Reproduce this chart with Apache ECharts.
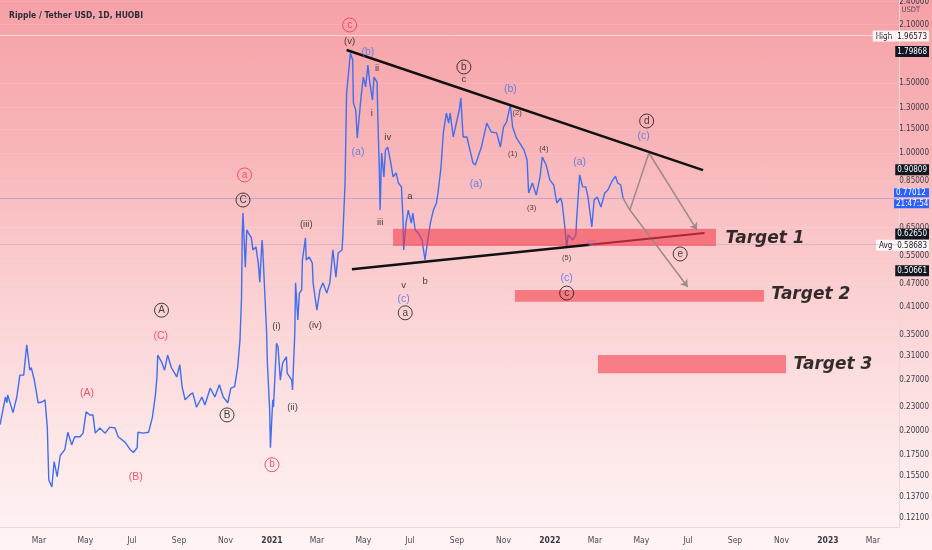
<!DOCTYPE html>
<html>
<head>
<meta charset="utf-8">
<title>Ripple / Tether USD, 1D, HUOBI</title>
<script src="https://cdn.jsdelivr.net/npm/echarts@6/dist/echarts.min.js"></script>
<style>
  html, body { margin: 0; padding: 0; }
  #main {
    width: 932px; height: 550px;
    background: linear-gradient(to bottom, #f6a1a7 0%, #f8b6ba 28%, #fbcfd1 52%, #fde5e6 78%, #fff4f4 100%);
  }
</style>
</head>
<body>
<div id="main"></div>
<script>
"use strict";

// closing prices
var priceDates = [
  '2020-01-10','2020-01-17','2020-01-19','2020-01-20','2020-01-27','2020-02-01','2020-02-05','2020-02-10',
  '2020-02-14','2020-02-18','2020-02-20','2020-02-24','2020-02-29','2020-03-05','2020-03-09','2020-03-12',
  '2020-03-14','2020-03-18','2020-03-21','2020-03-25','2020-03-29','2020-04-04','2020-04-08','2020-04-13',
  '2020-04-17','2020-04-24','2020-04-28','2020-05-02','2020-05-07','2020-05-11','2020-05-14','2020-05-20',
  '2020-05-27','2020-06-02','2020-06-09','2020-06-13','2020-06-22','2020-06-29','2020-07-03','2020-07-08',
  '2020-07-09','2020-07-16','2020-07-23','2020-07-28','2020-08-01','2020-08-03','2020-08-04','2020-08-09',
  '2020-08-13','2020-08-17','2020-08-22','2020-08-29','2020-09-02','2020-09-05','2020-09-09','2020-09-15',
  '2020-09-19','2020-09-24','2020-10-01','2020-10-05','2020-10-12','2020-10-18','2020-10-24','2020-10-29',
  '2020-11-04','2020-11-08','2020-11-13','2020-11-17','2020-11-20','2020-11-22','2020-11-23','2020-11-24',
  '2020-11-27','2020-11-29','2020-12-01','2020-12-05','2020-12-07','2020-12-11','2020-12-14','2020-12-16',
  '2020-12-19','2020-12-20','2020-12-23','2020-12-25','2020-12-26','2020-12-29','2020-12-30',
  '2021-01-02','2021-01-03','2021-01-07','2021-01-09','2021-01-12','2021-01-15','2021-01-20','2021-01-21',
  '2021-01-27','2021-01-28','2021-01-31','2021-02-01','2021-02-04','2021-02-06','2021-02-09','2021-02-10',
  '2021-02-14','2021-02-15','2021-02-19','2021-02-23','2021-02-24','2021-03-01','2021-03-05','2021-03-09',
  '2021-03-14','2021-03-18','2021-03-22','2021-03-26','2021-03-29','2021-04-03','2021-04-04','2021-04-07',
  '2021-04-08','2021-04-09','2021-04-11','2021-04-14','2021-04-17','2021-04-18','2021-04-21','2021-04-23',
  '2021-04-28','2021-05-01','2021-05-04','2021-05-07','2021-05-09','2021-05-13','2021-05-15','2021-05-19',
  '2021-05-20','2021-05-22','2021-05-23','2021-05-25','2021-05-28','2021-05-30','2021-06-02','2021-06-06',
  '2021-06-09','2021-06-13','2021-06-16','2021-06-20','2021-06-22','2021-06-23','2021-06-26','2021-06-29',
  '2021-07-03','2021-07-05','2021-07-08','2021-07-12','2021-07-17','2021-07-21','2021-07-24','2021-07-28',
  '2021-08-01','2021-08-05','2021-08-07','2021-08-11','2021-08-14','2021-08-18','2021-08-21','2021-08-23',
  '2021-08-27','2021-09-01','2021-09-04','2021-09-06','2021-09-09','2021-09-14','2021-09-18','2021-09-22',
  '2021-09-25','2021-10-03','2021-10-10','2021-10-16','2021-10-23','2021-10-28','2021-11-01','2021-11-05',
  '2021-11-10','2021-11-13','2021-11-18','2021-11-24','2021-11-28','2021-12-02','2021-12-04','2021-12-09',
  '2021-12-14','2021-12-19','2021-12-22','2021-12-27',
  '2022-01-01','2022-01-06','2022-01-10','2022-01-15','2022-01-17','2022-01-20','2022-01-23','2022-01-25',
  '2022-01-31','2022-02-04','2022-02-05','2022-02-09','2022-02-13','2022-02-17','2022-02-20','2022-02-25',
  '2022-02-28','2022-03-04','2022-03-09','2022-03-14','2022-03-18','2022-03-23','2022-03-28','2022-03-31',
  '2022-04-04','2022-04-07'
];
var priceValues = [
  0.208,0.244,0.236,0.247,0.223,0.244,0.277,0.277,
  0.330,0.285,0.289,0.269,0.236,0.237,0.240,0.205,
  0.151,0.145,0.168,0.154,0.174,0.180,0.199,0.185,
  0.194,0.194,0.198,0.224,0.220,0.220,0.198,0.204,
  0.198,0.205,0.204,0.194,0.188,0.180,0.177,0.182,
  0.199,0.198,0.199,0.217,0.247,0.274,0.311,0.299,
  0.285,0.311,0.289,0.274,0.294,0.259,0.240,0.247,
  0.250,0.230,0.244,0.233,0.257,0.244,0.262,0.244,
  0.236,0.257,0.259,0.290,0.339,0.428,0.630,0.707,
  0.517,0.641,0.630,0.612,0.571,0.581,0.529,0.474,
  0.605,0.571,0.428,0.353,0.297,0.226,0.182,
  0.240,0.230,0.333,0.326,0.269,0.297,0.308,0.280,
  0.269,0.254,0.353,0.472,0.381,0.445,0.453,0.539,
  0.612,0.539,0.548,0.529,0.472,0.403,0.453,0.472,
  0.445,0.472,0.571,0.488,0.561,0.571,0.615,0.841,
  1.097,1.415,1.551,1.783,1.712,1.335,1.282,1.091,
  1.382,1.551,1.465,1.663,1.525,1.358,1.551,1.507,
  1.231,0.906,0.719,1.000,0.871,1.017,1.035,0.944,
  0.871,0.891,0.841,0.822,0.691,0.571,0.667,0.719,
  0.667,0.707,0.641,0.630,0.605,0.539,0.594,0.667,
  0.719,0.749,0.794,0.922,1.123,1.260,1.189,1.260,
  1.097,1.210,1.282,1.374,1.097,1.097,1.017,0.944,
  0.933,1.035,1.189,1.129,1.123,1.035,1.162,1.196,
  1.320,1.162,1.091,1.047,1.017,0.960,0.794,0.841,
  0.784,0.871,0.977,0.933,
  0.855,0.831,0.749,0.771,0.749,0.667,0.581,0.623,
  0.605,0.623,0.679,0.881,0.822,0.822,0.775,0.652,
  0.762,0.775,0.732,0.794,0.807,0.846,0.875,0.841,
  0.831,0.7701
];

// price scale
var tickPrices = [2.4, 2.1, 1.5, 1.3, 1.15, 1.0, 0.85, 0.65, 0.55, 0.47, 0.41, 0.35, 0.31, 0.27, 0.23, 0.20, 0.175, 0.155, 0.137, 0.121];
var tagPrices = [1.79868, 0.90809, 0.62650, 0.50661];
var highPrice = 1.96573;
var avgPrice = 0.58683;
var lastPrice = 0.77012;
var lastTime = '21:47:54';

// time scale
var monthTicks = ['2020-03-01','2020-05-01','2020-07-01','2020-09-01','2020-11-01','2021-01-01','2021-03-01',
  '2021-05-01','2021-07-01','2021-09-01','2021-11-01','2022-01-01','2022-03-01','2022-05-01','2022-07-01',
  '2022-09-01','2022-11-01','2023-01-01','2023-03-01'];
var monthNames = ['Jan','Feb','Mar','Apr','May','Jun','Jul','Aug','Sep','Oct','Nov','Dec'];

// drawings: trend lines, projection, targets
var upperTrend = [['2021-04-09', 1.814], ['2022-07-21', 0.906]];
var lowerTrend = [['2021-04-16', 0.511], ['2022-02-22', 0.5886]];
var lowerTrendExt = [['2022-02-22', 0.5886], ['2022-07-23', 0.630]];
var projPath = [['2022-04-07', 0.7701], ['2022-04-16', 0.719], ['2022-05-11', 1.0]];
var projArrows = [
  [['2022-05-11', 1.0], ['2022-07-13', 0.641]],
  [['2022-04-16', 0.719], ['2022-07-01', 0.461]]
];
var targetBoxes = [
  ['2021-06-09', 0.645, '2022-08-07', 0.584],
  ['2021-11-16', 0.453, '2022-10-09', 0.423],
  ['2022-03-05', 0.311, '2022-11-07', 0.280]
];
var targetLabels = [['2022-08-19', 0.608, 'Target 1'], ['2022-10-18', 0.440, 'Target 2'], ['2022-11-16', 0.295, 'Target 3']];

// wave counts
var waveRed = [['2020-05-03', 0.250, '(A)'], ['2020-07-06', 0.154, '(B)'], ['2020-08-08', 0.347, '(C)']];
var circRed = [['2020-11-26', 0.881, 'a'], ['2021-01-01', 0.165, 'b'], ['2021-04-13', 2.096, 'c']];
var circBlack = [['2020-08-09', 0.403, 'A'], ['2020-11-03', 0.220, 'B'], ['2020-11-24', 0.762, 'C'],
  ['2021-06-25', 0.397, 'a'], ['2021-09-10', 1.644, 'b'], ['2022-01-23', 0.445, 'c'],
  ['2022-05-08', 1.203, 'd'], ['2022-06-21', 0.558, 'e']];
var waveBlack = [['2021-01-07', 0.368, '(i)'], ['2021-01-28', 0.230, '(ii)'], ['2021-02-15', 0.663, '(iii)'],
  ['2021-02-27', 0.370, '(iv)'], ['2021-04-13', 1.911, '(v)'], ['2021-05-19', 1.634, 'ii'],
  ['2021-05-12', 1.260, 'i'], ['2021-06-02', 1.097, 'iv'], ['2021-05-23', 0.671, 'iii'],
  ['2021-07-01', 0.780, 'a'], ['2021-06-23', 0.464, 'v'], ['2021-07-21', 0.477, 'b'], ['2021-09-10', 1.534, 'c']];
var waveSmall = [['2021-11-13', 0.994, '(1)'], ['2021-11-19', 1.260, '(2)'], ['2021-12-08', 0.728, '(3)'],
  ['2021-12-24', 1.023, '(4)'], ['2022-01-23', 0.545, '(5)']];
var waveBlue = [['2021-04-24', 1.006, '(a)'], ['2021-05-07', 1.793, '(b)'], ['2021-06-23', 0.430, '(c)'],
  ['2021-09-26', 0.836, '(a)'], ['2021-11-10', 1.448, '(b)'], ['2022-01-23', 0.486, '(c)'],
  ['2022-02-09', 0.949, '(a)'], ['2022-05-04', 1.103, '(c)']];
var waveFaint = [['2022-02-25', 0.594, '(5)']];

var axisFont = "'Liberation Sans Narrow', 'DejaVu Sans Condensed', 'Liberation Sans', sans-serif";
var labelFont = "'Liberation Sans', 'DejaVu Sans', sans-serif";

function t(s) { return Date.parse(s + 'T00:00:00Z'); }
function pts(list) { return list.map(function (p) { return [t(p[0]), p[1]]; }); }
function same(a, b) { return Math.abs(a - b) < 1e-6; }

function labelSeries(items, color, size, circled) {
  return {
    type: 'scatter', silent: true, z: 6,
    symbol: 'circle',
    symbolSize: circled ? 14 : 1,
    itemStyle: circled
      ? { color: 'rgba(0,0,0,0)', borderColor: color, borderWidth: 1 }
      : { color: 'rgba(0,0,0,0)' },
    label: { show: true, position: 'inside', formatter: '{b}', color: color, fontSize: size, fontFamily: labelFont },
    data: items.map(function (d) { return { name: d[2], value: [t(d[0]), d[1]] }; })
  };
}

function lineSeries(list, color, width, z) {
  return {
    type: 'line', silent: true, z: z, symbol: 'none',
    lineStyle: { color: color, width: width },
    data: pts(list)
  };
}

var myChart = echarts.init(document.getElementById('main'));

var lowerSeries = lineSeries(lowerTrend, '#111111', 2.5, 4);
lowerSeries.markArea = {
  silent: true, z: 3,
  itemStyle: { color: 'rgba(242,54,69,0.57)' },
  data: targetBoxes.map(function (b) { return [{ coord: [t(b[0]), b[1]] }, { coord: [t(b[2]), b[3]] }]; })
};

var option = {
  animation: false,
  backgroundColor: 'transparent',
  title: {
    text: 'Ripple / Tether USD, 1D, HUOBI',
    left: 4, top: 6,
    textStyle: { fontSize: 8.5, fontWeight: 'bold', color: '#2a2e39', fontFamily: axisFont }
  },
  grid: { left: 0, right: 33, top: 0, bottom: 23, outerBoundsMode: 'none' },
  xAxis: {
    // timestamps on a plain value axis so the month ticks can be placed exactly
    type: 'value',
    min: Date.parse('2020-01-09T22:00:00Z'),
    max: Date.parse('2023-04-04T08:00:00Z'),
    axisLine: { show: true, lineStyle: { color: '#ead9da' } },
    axisTick: { show: false },
    splitLine: { show: false },
    axisLabel: {
      customValues: monthTicks.map(t),
      margin: 9,
      fontSize: 8.5,
      color: '#4a4a55',
      fontFamily: axisFont,
      formatter: function (v) {
        var d = new Date(v);
        return d.getUTCMonth() === 0 ? '{yr|' + d.getUTCFullYear() + '}' : monthNames[d.getUTCMonth()];
      },
      rich: { yr: { fontWeight: 'bold', fontSize: 8.5, color: '#3a3a44', fontFamily: axisFont } }
    }
  },
  yAxis: {
    type: 'log', logBase: 10,
    position: 'right',
    min: 0.1151, max: 2.4216,
    axisLine: { show: true, lineStyle: { color: '#ead9da' } },
    axisTick: { show: false, customValues: tickPrices },
    splitLine: { show: true, lineStyle: { color: 'rgba(255,255,255,0.1)', width: 1 } },
    axisLabel: {
      customValues: tickPrices.concat([highPrice, avgPrice], tagPrices, [lastPrice]),
      align: 'right',
      margin: 30,
      fontSize: 8,
      color: '#3a3a44',
      fontFamily: axisFont,
      formatter: function (v) {
        var s = v.toFixed(5);
        if (same(v, highPrice)) return '{name|High}{light|' + s + '}';
        if (same(v, avgPrice)) return '{name|Avg}{light|' + s + '}';
        if (same(v, lastPrice)) return '{blue|' + s + '}\n{blue|' + lastTime + '}';
        for (var i = 0; i < tagPrices.length; i++) {
          if (same(v, tagPrices[i])) return '{dark|' + s + '}';
        }
        return s;
      },
      rich: {
        dark: { backgroundColor: '#131722', color: '#ffffff', padding: [2, 2, 1, 2], fontSize: 8, fontFamily: axisFont },
        light: { backgroundColor: 'rgba(255,255,255,0.85)', color: '#131722', padding: [2, 2, 1, 2], fontSize: 8, fontFamily: axisFont },
        name: { backgroundColor: 'rgba(255,255,255,0.85)', color: '#131722', padding: [2, 3, 1, 3], fontSize: 8, fontFamily: axisFont },
        blue: { backgroundColor: '#2962ff', color: '#ffffff', width: 32, align: 'left', padding: [1, 1, 0, 2], lineHeight: 11, fontSize: 8, fontFamily: axisFont }
      }
    }
  },
  series: [
    {
      name: 'XRPUSDT', type: 'line', z: 2, silent: true,
      symbol: 'none',
      lineStyle: { color: '#3f6ef0', width: 1.4 },
      data: priceDates.map(function (d, i) { return [t(d), priceValues[i]]; }),
      markLine: {
        silent: true, symbol: 'none', z: 1,
        label: { show: false },
        data: [
          { yAxis: highPrice, lineStyle: { color: 'rgba(255,255,255,0.55)', type: 'solid', width: 1 } },
          { yAxis: lastPrice, lineStyle: { color: 'rgba(70,100,230,0.3)', type: 'solid', width: 1 } },
          { yAxis: avgPrice, lineStyle: { color: 'rgba(150,140,170,0.3)', type: 'solid', width: 1 } }
        ]
      }
    },
    lowerSeries,
    lineSeries(upperTrend, '#111111', 2.5, 4),
    lineSeries(lowerTrendExt, '#a8283a', 2, 4),
    lineSeries(projPath, '#a08888', 1.5, 4),
    {
      type: 'lines', coordinateSystem: 'cartesian2d', silent: true, z: 4,
      symbol: ['none', 'arrow'], symbolSize: 7,
      lineStyle: { color: '#a08888', width: 1.5, opacity: 1 },
      data: projArrows.map(function (a) { return { coords: pts(a) }; })
    },
    labelSeries(waveRed, '#f0304a', 10.5, false),
    labelSeries(circRed, '#f0304a', 10, true),
    labelSeries(circBlack, '#141414', 10, true),
    labelSeries(waveBlack, '#141414', 9.5, false),
    labelSeries(waveSmall, '#141414', 7.5, false),
    labelSeries(waveBlue, '#4a6ee8', 10.5, false),
    labelSeries(waveFaint, 'rgba(140,110,210,0.7)', 8, false),
    {
      type: 'scatter', silent: true, z: 6,
      symbolSize: 1, itemStyle: { color: 'rgba(0,0,0,0)' },
      label: {
        show: true, position: 'right', distance: 0, formatter: '{b}',
        color: '#000000', fontSize: 17, fontWeight: 'bold', fontStyle: 'italic',
        fontFamily: "'DejaVu Sans', sans-serif"
      },
      data: targetLabels.map(function (d) { return { name: d[2], value: [t(d[0]), d[1]] }; })
    }
  ],
  graphic: [
    { type: 'text', right: 12, top: 6, silent: true,
      style: { text: 'USDT', fontSize: 7.5, fill: '#4a4a55', fontFamily: axisFont } }
  ]
};

myChart.setOption(option);
</script>
</body>
</html>
